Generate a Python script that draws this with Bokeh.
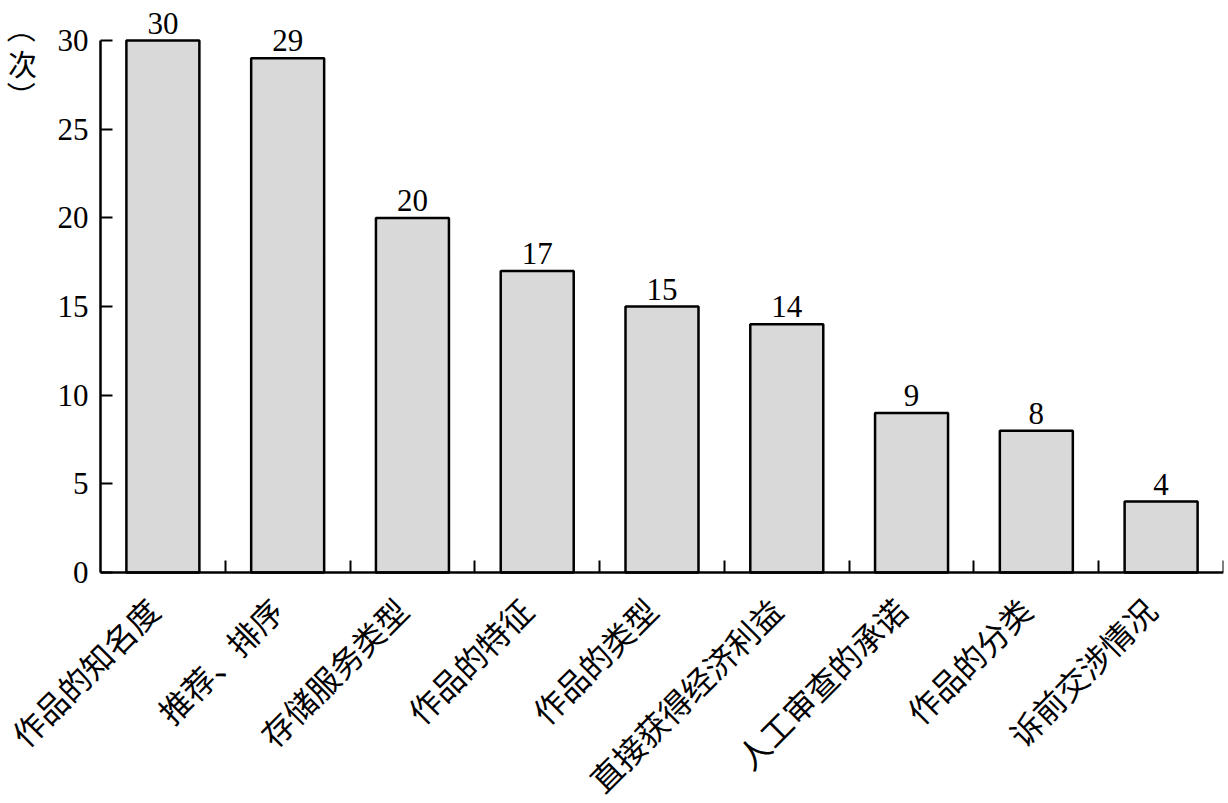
import math
from bokeh.plotting import figure
from bokeh.models import ColumnDataSource, FixedTicker, Range1d
from bokeh.core.properties import value
from bokeh.embed import file_html
from bokeh.resources import INLINE

categories = ["作品的知名度", "推荐、排序", "存储服务类型", "作品的特征", "作品的类型",
              "直接获得经济利益", "人工审查的承诺", "作品的分类", "诉前交涉情况"]
counts = [30, 29, 20, 17, 15, 14, 9, 8, 4]
y_ticks = [0, 5, 10, 15, 20, 25, 30]
unit_chars = ["（", "次", "）"]

n = len(categories)
centers = [i + 0.5 for i in range(n)]
bounds = [i + 1 for i in range(n)]

src = ColumnDataSource(dict(x=centers, top=counts, lab=[str(c) for c in counts]))

# Frame covers the whole canvas; both axes are fixed at the data origin so that
# their labels and the unit label are drawn inside the frame.
p = figure(frame_width=1223, frame_height=799, output_backend="svg", toolbar_location=None,
           x_range=Range1d(-0.8014, n), y_range=Range1d(-12.97, 32.09),
           min_border_left=0, min_border_top=3, min_border_right=3, min_border_bottom=0)
p.outline_line_color = None
p.background_fill_color = "white"
p.border_fill_color = "white"
p.xgrid.grid_line_color = None
p.ygrid.grid_line_color = None

p.vbar(x="x", top="top", width=0.585, bottom=0, source=src,
       fill_color="#d9d9d9", line_color="black", line_width=2.5)
p.text(x="x", y="top", text="lab", source=src, text_align="center", text_baseline="bottom",
       y_offset=-7, text_font=value("Liberation Serif"), text_font_size="31px", text_color="black")

# x axis at y = 0
xa = p.xaxis[0]
xa.fixed_location = 0
xa.ticker = FixedTicker(ticks=centers, minor_ticks=bounds)
xa.bounds = (0, n)
xa.major_label_overrides = {c: cat + "\u2002" for c, cat in zip(centers, categories)}
xa.major_tick_line_color = None
xa.major_tick_in = 0
xa.major_tick_out = 0
xa.minor_tick_line_color = "black"
xa.minor_tick_line_width = 2
xa.minor_tick_in = 12
xa.minor_tick_out = 0
xa.axis_line_color = "black"
xa.axis_line_width = 2.5
xa.major_label_orientation = math.pi / 4
xa.major_label_standoff = 20
xa.major_label_text_font = "Noto Sans CJK SC"
xa.major_label_text_font_size = "32px"
xa.major_label_text_color = "black"

# y axis at x = 0
ya = p.yaxis[0]
ya.fixed_location = 0
ya.ticker = FixedTicker(ticks=y_ticks)
ya.bounds = (0, 30)
ya.major_tick_in = 12
ya.major_tick_out = 0
ya.major_tick_line_width = 2
ya.minor_tick_line_color = None
ya.axis_line_width = 2.5
ya.major_label_standoff = 12
ya.major_label_text_font = "Liberation Serif"
ya.major_label_text_font_size = "31px"
ya.major_label_text_color = "black"

# vertical unit label "（次）": parentheses turned a quarter turn, character upright
unit_src = ColumnDataSource(dict(x=[-0.625] * 3, y=[30.68, 28.71, 26.88], t=unit_chars,
                                 a=[-math.pi / 2, 0, -math.pi / 2]))
p.text(x="x", y="y", text="t", angle="a", source=unit_src, text_align="center",
       text_baseline="middle", text_font=value("Noto Sans CJK SC"), text_font_size="29px",
       text_color="black")

open("out.html", "w").write(file_html(p, INLINE))
